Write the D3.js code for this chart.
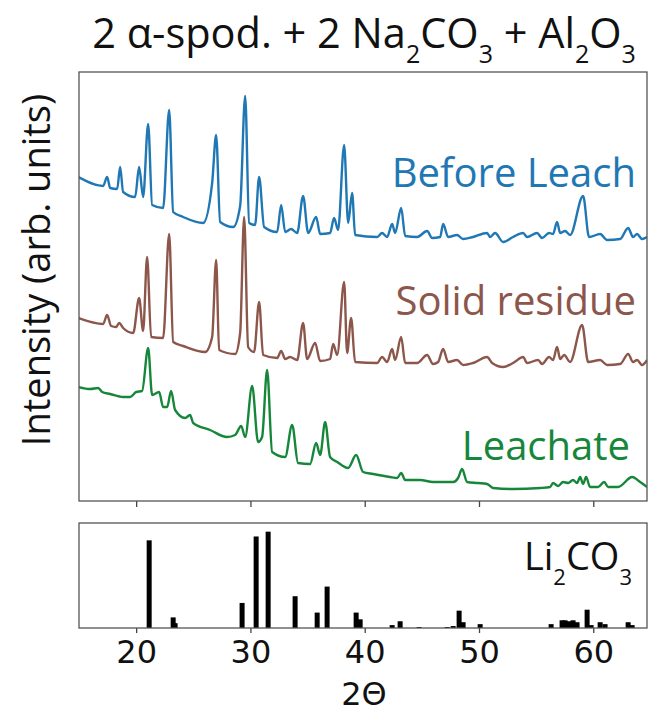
<!DOCTYPE html>
<html>
<head>
<meta charset="utf-8">
<script src="https://cdn.jsdelivr.net/npm/d3@7"></script>
<style>
  body { margin: 0; background: #fff; }
</style>
</head>
<body>
<script>
// XRD patterns, 2theta vs intensity (arb.)
const beforeLeach = [
  [14.93, 324], [17.11, 315], [17.46, 324], [17.73, 313], [18.34, 312], [18.60, 334],
  [18.86, 309], [19.91, 304], [20.26, 334], [20.61, 304], [21.05, 377], [21.40, 296],
  [22.36, 293], [22.89, 391], [23.24, 289], [24.11, 284], [25.86, 278], [26.65, 318],
  [27.00, 366], [27.35, 279], [28.49, 274], [29.10, 295], [29.54, 405], [29.89, 278],
  [30.41, 276], [30.76, 324], [31.20, 274], [32.34, 269], [32.69, 296], [33.04, 269],
  [33.56, 272], [34.09, 268], [34.61, 305], [35.05, 268], [35.75, 284], [36.10, 267],
  [36.97, 268], [37.32, 283], [37.67, 271], [38.20, 356], [38.55, 278], [38.90, 308],
  [39.16, 266], [41.09, 264], [41.52, 268], [41.96, 264], [42.40, 277], [42.66, 268],
  [43.19, 293], [43.54, 265], [44.59, 264], [45.46, 270], [45.90, 263], [46.60, 264],
  [46.86, 277], [47.30, 264], [48.08, 266], [48.61, 262], [49.48, 264], [50.71, 268],
  [50.97, 264], [51.41, 268], [52.11, 259], [52.98, 264], [53.86, 268], [54.21, 264],
  [55.08, 268], [55.52, 263], [56.13, 268], [56.48, 267], [56.83, 279], [57.10, 268],
  [57.53, 270], [57.97, 266], [59.11, 305], [59.63, 264], [60.60, 267], [61.21, 261],
  [62.35, 262], [63.05, 273], [63.48, 264], [63.83, 267], [64.27, 262], [64.71, 264]
];

const solidResidue = [
  [14.93, 183], [17.11, 177], [17.46, 186], [17.81, 175], [18.25, 174], [18.51, 178],
  [18.86, 173], [19.74, 168], [20.26, 203], [20.61, 170], [20.96, 244], [21.31, 164],
  [22.36, 163], [22.89, 267], [23.24, 159], [24.11, 155], [26.04, 149], [26.65, 164],
  [27.00, 241], [27.26, 151], [28.66, 147], [29.10, 168], [29.45, 284], [29.80, 154],
  [30.32, 149], [30.76, 199], [31.11, 146], [32.34, 143], [32.69, 150], [33.04, 142],
  [33.47, 144], [34.09, 141], [34.61, 178], [34.96, 142], [35.66, 158], [36.10, 140],
  [36.97, 142], [37.24, 157], [37.59, 146], [38.20, 219], [38.46, 148], [38.81, 183],
  [39.16, 139], [41.09, 138], [41.52, 144], [41.96, 139], [42.40, 152], [42.66, 141],
  [43.19, 164], [43.54, 138], [44.59, 138], [45.46, 146], [45.98, 137], [46.42, 139],
  [46.86, 152], [47.30, 139], [48.08, 141], [48.61, 136], [49.48, 138], [50.71, 144],
  [51.15, 138], [52.11, 134], [52.98, 138], [53.86, 144], [54.21, 138], [55.17, 141],
  [55.52, 137], [56.13, 144], [56.48, 141], [56.83, 154], [57.10, 142], [57.45, 146],
  [57.97, 139], [59.02, 176], [59.55, 139], [60.60, 141], [61.21, 136], [62.35, 137],
  [63.05, 147], [63.48, 139], [63.83, 141], [64.27, 136], [64.71, 141]
];

const leachate = [
  [14.93, 114], [15.98, 112], [16.68, 113], [17.03, 109], [17.73, 107], [18.86, 104],
  [19.48, 104], [20.00, 109], [20.52, 110], [21.05, 153], [21.40, 106], [22.01, 109],
  [22.36, 94], [22.71, 94], [23.06, 110], [23.41, 91], [24.29, 83], [24.72, 86],
  [24.99, 78], [26.47, 71], [27.96, 64], [28.66, 66], [29.19, 75], [29.54, 64],
  [30.15, 115], [30.67, 59], [31.02, 64], [31.46, 131], [31.90, 49], [33.04, 44],
  [33.65, 76], [34.17, 38], [35.22, 37], [35.75, 58], [36.10, 46], [36.54, 79],
  [36.97, 44], [37.59, 39], [38.55, 33], [39.25, 46], [39.86, 29], [40.74, 27],
  [42.22, 24], [42.84, 23], [43.19, 28], [43.54, 21], [44.85, 21], [45.98, 19],
  [47.74, 19], [48.17, 23], [48.52, 32], [48.96, 19], [49.92, 18], [50.71, 17],
  [51.23, 13], [52.98, 12], [55.35, 13], [56.22, 14], [56.48, 18], [56.92, 15],
  [57.36, 19], [57.80, 18], [58.23, 21], [58.58, 18], [58.85, 24], [59.11, 17],
  [59.37, 24], [59.72, 14], [60.42, 14], [60.95, 19], [61.30, 14], [62.17, 14],
  [63.40, 24], [64.10, 19], [64.71, 14]
];

// Li2CO3 reference peaks: 2theta, relative intensity
const li2co3Peaks = [
  [21.14, 91], [23.24, 11], [23.41, 5], [29.27, 26], [30.50, 95], [31.55, 100],
  [33.91, 33], [35.84, 16], [36.71, 43], [39.25, 16], [39.60, 9], [42.40, 3],
  [43.10, 7], [44.76, 1], [47.21, 1], [47.74, 2], [48.26, 18], [48.61, 6],
  [50.10, 4], [56.31, 4], [57.27, 8], [57.53, 8], [57.88, 7], [58.23, 8],
  [58.58, 6], [59.46, 19], [59.81, 3], [60.60, 6], [61.03, 4], [63.05, 6], [63.40, 3]
];

const xTicks = [20, 30, 40, 50, 60];

const width = 650;
const height = 713;
const plot = { left: 79, right: 647 };
const topPanel = { y0: 72, y1: 501 };
const botPanel = { y0: 523, y1: 628 };

const traceStyle = [
  { data: beforeLeach, color: '#1f77b4', label: 'Before Leach', lx: 636, ly: 187 },
  { data: solidResidue, color: '#8c564b', label: 'Solid residue', lx: 636, ly: 315 },
  { data: leachate, color: '#16873a', label: 'Leachate', lx: 630, ly: 460 }
];

const labelFont = '"Open Sans", sans-serif';
const tickFont = '"DejaVu Sans", sans-serif';

const x = d3.scaleLinear()
  .domain([15, 64.7])
  .range([plot.left, plot.right]);

const y = d3.scaleLinear()
  .domain([0, 429])
  .range([topPanel.y1, topPanel.y0]);

const yRef = d3.scaleLinear()
  .domain([0, 109])
  .range([botPanel.y1, botPanel.y0]);

const svg = d3.create('svg')
  .attr('width', width)
  .attr('height', height)
  .style('background', '#fff');

// title with subscripts
const title = svg.append('text')
  .attr('x', 364)
  .attr('y', 48)
  .attr('text-anchor', 'middle')
  .attr('font-family', labelFont)
  .attr('font-size', 41.5)
  .attr('fill', '#111');

const titleParts = [
  ['2 α-spod. + 2 Na', 0], ['2', 1], ['CO', 0], ['3', 1], [' + Al', 0], ['2', 1], ['O', 0], ['3', 1]
];
let shifted = false;
titleParts.forEach(([t, sub]) => {
  const ts = title.append('tspan').text(t);
  if (sub) {
    ts.attr('font-size', 25).attr('dy', 15);
    shifted = true;
  } else if (shifted) {
    ts.attr('dy', -15);
    shifted = false;
  }
});

// top panel
const line = d3.line()
  .x(d => x(d[0]))
  .y(d => y(d[1]))
  .curve(d3.curveMonotoneX);

svg.append('defs').append('clipPath')
  .attr('id', 'clipTop')
  .append('rect')
  .attr('x', plot.left)
  .attr('y', topPanel.y0)
  .attr('width', plot.right - plot.left)
  .attr('height', topPanel.y1 - topPanel.y0);

const traces = svg.append('g').attr('clip-path', 'url(#clipTop)');

traceStyle.forEach(s => {
  traces.append('path')
    .datum(s.data)
    .attr('fill', 'none')
    .attr('stroke', s.color)
    .attr('stroke-width', 2.4)
    .attr('stroke-linejoin', 'round')
    .attr('d', line);

  svg.append('text')
    .attr('x', s.lx)
    .attr('y', s.ly)
    .attr('text-anchor', 'end')
    .attr('font-family', labelFont)
    .attr('font-size', 40)
    .attr('fill', s.color)
    .text(s.label);
});

svg.append('g')
  .attr('transform', `translate(0,${topPanel.y1})`)
  .call(d3.axisBottom(x).tickValues(xTicks).tickSize(6).tickFormat(''))
  .call(g => g.select('.domain').remove())
  .call(g => g.selectAll('line').attr('stroke', '#444').attr('stroke-width', 1.3));

svg.append('rect')
  .attr('x', plot.left)
  .attr('y', topPanel.y0)
  .attr('width', plot.right - plot.left)
  .attr('height', topPanel.y1 - topPanel.y0)
  .attr('fill', 'none')
  .attr('stroke', '#555')
  .attr('stroke-width', 1.3);

svg.append('text')
  .attr('transform', `translate(50,270) rotate(-90)`)
  .attr('text-anchor', 'middle')
  .attr('font-family', labelFont)
  .attr('font-size', 38)
  .attr('fill', '#111')
  .text('Intensity (arb. units)');

// bottom panel: reference sticks
svg.append('g')
  .selectAll('rect')
  .data(li2co3Peaks)
  .join('rect')
  .attr('x', d => x(d[0]) - 2.5)
  .attr('y', d => yRef(d[1]))
  .attr('width', 5)
  .attr('height', d => yRef(0) - yRef(d[1]))
  .attr('fill', '#000');

svg.append('g')
  .attr('transform', `translate(0,${botPanel.y1})`)
  .call(d3.axisBottom(x).tickValues(xTicks).tickSize(5).tickPadding(7))
  .call(g => g.select('.domain').remove())
  .call(g => g.selectAll('line').attr('stroke', '#444').attr('stroke-width', 1.3))
  .call(g => g.selectAll('text')
    .attr('font-family', tickFont)
    .attr('font-size', 32)
    .attr('fill', '#111'));

svg.append('rect')
  .attr('x', plot.left)
  .attr('y', botPanel.y0)
  .attr('width', plot.right - plot.left)
  .attr('height', botPanel.y1 - botPanel.y0)
  .attr('fill', 'none')
  .attr('stroke', '#555')
  .attr('stroke-width', 1.3);

const refLabel = svg.append('text')
  .attr('x', 632)
  .attr('y', 570)
  .attr('text-anchor', 'end')
  .attr('font-family', labelFont)
  .attr('font-size', 38)
  .attr('fill', '#111');
refLabel.append('tspan').text('Li');
refLabel.append('tspan').text('2').attr('font-size', 22).attr('dy', 15);
refLabel.append('tspan').text('CO').attr('dy', -15);
refLabel.append('tspan').text('3').attr('font-size', 22).attr('dy', 15);

svg.append('text')
  .attr('x', 364)
  .attr('y', 705)
  .attr('text-anchor', 'middle')
  .attr('font-family', tickFont)
  .attr('font-size', 32)
  .attr('fill', '#111')
  .text('2Θ');

document.querySelector('body').appendChild(svg.node());
</script>
</body>
</html>
